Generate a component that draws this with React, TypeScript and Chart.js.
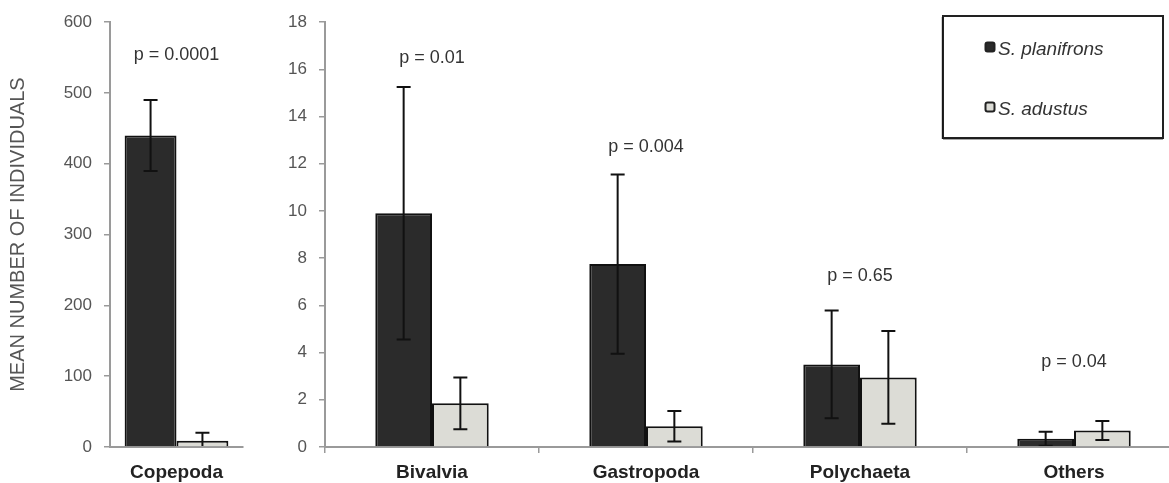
import React, { useEffect, useRef } from "react";
import { Chart, registerables } from "chart.js";

Chart.register(...registerables);

// ---------- data ----------
const seriesNames = ["S. planifrons", "S. adustus"];
const yAxisTitle = "MEAN NUMBER OF INDIVIDUALS";

const leftCategories = ["Copepoda"];
const leftPlanifrons = [440];
const leftPlanifronsErr = [50];
const leftAdustus = [9];
const leftAdustusErr = [11];
const leftPLabels = ["p = 0.0001"];
const leftPLabelY = [554];
const leftYMax = 600;
const leftYStep = 100;

const rightCategories = ["Bivalvia", "Gastropoda", "Polychaeta", "Others"];
const rightPlanifrons = [9.9, 7.75, 3.5, 0.35];
const rightPlanifronsErr = [5.35, 3.8, 2.28, 0.3];
const rightAdustus = [1.85, 0.88, 2.95, 0.7];
const rightAdustusErr = [1.1, 0.65, 1.97, 0.4];
const rightPLabels = ["p = 0.01", "p = 0.004", "p = 0.65", "p = 0.04"];
const rightPLabelY = [16.5, 12.7, 7.25, 3.6];
const rightYMax = 18;
const rightYStep = 2;

// ---------- style ----------
const FONT = "'Liberation Sans', Arial, sans-serif";
const DARK = "#2b2b2b";
const LIGHT = "#dcdcd6";
const EDGE = "#111111";
const AXIS = "#9a9a9a";

const errorBarPlugin = {
  id: "errorBars",
  afterDatasetsDraw(chart: any) {
    const ctx = chart.ctx;
    const yScale = chart.scales.y;
    const area = chart.chartArea;
    ctx.save();
    ctx.beginPath();
    ctx.rect(area.left, area.top - 2, area.right - area.left, area.bottom - area.top + 1);
    ctx.clip();
    ctx.strokeStyle = "#111";
    ctx.lineWidth = 2;
    chart.data.datasets.forEach((ds: any, i: number) => {
      const meta = chart.getDatasetMeta(i);
      meta.data.forEach((el: any, j: number) => {
        const v = ds.data[j];
        const e = ds.errors[j];
        const x = el.x;
        const yT = yScale.getPixelForValue(v + e);
        const yB = yScale.getPixelForValue(v - e);
        const cap = 7;
        ctx.beginPath();
        ctx.moveTo(x, yT);
        ctx.lineTo(x, yB);
        ctx.moveTo(x - cap, yT);
        ctx.lineTo(x + cap, yT);
        ctx.moveTo(x - cap, yB);
        ctx.lineTo(x + cap, yB);
        ctx.stroke();
      });
    });
    ctx.restore();
  },
};

const pLabelPlugin = {
  id: "pLabels",
  afterDatasetsDraw(chart: any, _args: any, opts: any) {
    const ctx = chart.ctx;
    const xs = chart.scales.x;
    const ys = chart.scales.y;
    ctx.save();
    ctx.font = `18px ${FONT}`;
    ctx.fillStyle = "#333";
    ctx.textAlign = "center";
    ctx.textBaseline = "middle";
    (opts.labels || []).forEach((t: string, j: number) => {
      ctx.fillText(t, xs.getPixelForValue(j), ys.getPixelForValue(opts.ys[j]));
    });
    ctx.restore();
  },
};

const boxLegendPlugin = {
  id: "boxLegend",
  afterDraw(chart: any, _args: any, opts: any) {
    if (!opts || !opts.show) return;
    const ctx = chart.ctx;
    const ox = opts.offsetX;
    ctx.save();
    ctx.strokeStyle = "#222";
    ctx.lineWidth = 2;
    ctx.strokeRect(943 - ox, 16, 220, 122);
    ctx.fillStyle = "rgba(0,0,0,0.35)";
    ctx.fillRect(941.5 - ox, 17, 1.5, 122);
    ctx.fillRect(943 - ox, 138.5, 220, 1.5);
    chart.data.datasets.forEach((ds: any, i: number) => {
      const cy = 47 + i * 60;
      const mx = 990 - ox;
      ctx.fillStyle = ds.backgroundColor;
      ctx.strokeStyle = "#222";
      ctx.lineWidth = 2;
      ctx.beginPath();
      (ctx as any).roundRect ? (ctx as any).roundRect(mx - 4.5, cy - 4.5, 9, 9, 2) : ctx.rect(mx - 4.5, cy - 4.5, 9, 9);
      ctx.fill();
      ctx.stroke();
      ctx.fillStyle = "#333";
      ctx.font = `italic 19px ${FONT}`;
      ctx.textAlign = "left";
      ctx.textBaseline = "middle";
      ctx.fillText(ds.label, 998 - ox, cy + 3);
    });
    ctx.restore();
  },
};

function makeConfig(opts: {
  categories: string[];
  a: number[];
  aErr: number[];
  b: number[];
  bErr: number[];
  pLabels: string[];
  pY: number[];
  yMax: number;
  yStep: number;
  yWidth: number;
  catPct: number;
  padRight: number;
  title: boolean;
  legend: boolean;
  offsetX: number;
  xTickColor: string;
}): any {
  return {
    type: "bar",
    data: {
      labels: opts.categories,
      datasets: [
        {
          label: seriesNames[0],
          data: opts.a,
          errors: opts.aErr,
          backgroundColor: DARK,
          borderColor: EDGE,
          borderWidth: 2,
          barPercentage: 1,
          categoryPercentage: opts.catPct,
        },
        {
          label: seriesNames[1],
          data: opts.b,
          errors: opts.bErr,
          backgroundColor: LIGHT,
          borderColor: EDGE,
          borderWidth: 2,
          barPercentage: 1,
          categoryPercentage: opts.catPct,
        },
      ],
    },
    options: {
      responsive: false,
      animation: false,
      events: [],
      layout: { padding: { top: 22, left: 0, right: opts.padRight, bottom: 0 } },
      plugins: {
        legend: { display: false },
        tooltip: { enabled: false },
        pLabels: { labels: opts.pLabels, ys: opts.pY },
        boxLegend: { show: opts.legend, offsetX: opts.offsetX },
      },
      scales: {
        x: {
          afterFit: (s: any) => {
            s.height = 36;
          },
          grid: {
            display: true,
            drawOnChartArea: false,
            drawTicks: true,
            tickLength: 6,
            color: opts.xTickColor,
            lineWidth: 1.5,
          },
          border: { display: true, color: AXIS, width: 2 },
          ticks: {
            color: "#222",
            padding: 8,
            font: { family: FONT, size: 19, weight: "bold" },
          },
        },
        y: {
          min: 0,
          max: opts.yMax,
          afterFit: (s: any) => {
            s.width = opts.yWidth;
          },
          grid: {
            display: true,
            drawOnChartArea: false,
            drawTicks: true,
            tickLength: 6,
            color: AXIS,
            lineWidth: 1.5,
          },
          border: { display: true, color: AXIS, width: 2 },
          ticks: {
            stepSize: opts.yStep,
            color: "#555",
            padding: 12,
            font: { family: FONT, size: 17 },
          },
          title: {
            display: opts.title,
            text: yAxisTitle,
            color: "#555",
            font: { family: FONT, size: 20 },
            padding: { top: 6, bottom: 0 },
          },
        },
      },
    },
    plugins: [errorBarPlugin, pLabelPlugin, boxLegendPlugin],
  };
}

export default function App() {
  const leftRef = useRef<HTMLCanvasElement | null>(null);
  const rightRef = useRef<HTMLCanvasElement | null>(null);

  useEffect(() => {
    if (!leftRef.current || !rightRef.current) return;
    const left = new Chart(
      leftRef.current,
      makeConfig({
        categories: leftCategories,
        a: leftPlanifrons,
        aErr: leftPlanifronsErr,
        b: leftAdustus,
        bErr: leftAdustusErr,
        pLabels: leftPLabels,
        pY: leftPLabelY,
        yMax: leftYMax,
        yStep: leftYStep,
        yWidth: 110,
        catPct: 0.78,
        padRight: 7,
        title: true,
        legend: false,
        offsetX: 0,
        xTickColor: "rgba(0,0,0,0)",
      })
    );
    const right = new Chart(
      rightRef.current,
      makeConfig({
        categories: rightCategories,
        a: rightPlanifrons,
        aErr: rightPlanifronsErr,
        b: rightAdustus,
        bErr: rightAdustusErr,
        pLabels: rightPLabels,
        pY: rightPLabelY,
        yMax: rightYMax,
        yStep: rightYStep,
        yWidth: 75,
        catPct: 0.53,
        padRight: 0,
        title: false,
        legend: true,
        offsetX: 250,
        xTickColor: AXIS,
      })
    );
    return () => {
      left.destroy();
      right.destroy();
    };
  }, []);

  return (
    <div
      style={{
        position: "fixed",
        left: 0,
        top: 0,
        width: 1169,
        height: 483,
        overflow: "hidden",
        background: "#ffffff",
      }}
    >
      <canvas
        ref={leftRef}
        width={250}
        height={483}
        style={{ position: "absolute", left: 0, top: 0 }}
      />
      <canvas
        ref={rightRef}
        width={931}
        height={483}
        style={{ position: "absolute", left: 250, top: 0 }}
      />
    </div>
  );
}
